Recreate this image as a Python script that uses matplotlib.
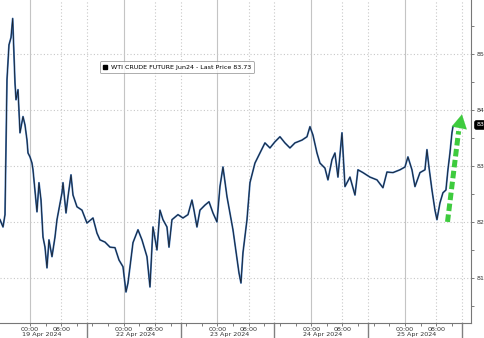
import matplotlib.pyplot as plt
from matplotlib.lines import Line2D

# hours since 19 Apr 2024 00:00 on the chart's trading-time axis (24 per day, weekend removed)
hours = [-7.68, -6.91, -6.40, -5.89, -5.38, -4.86, -4.43, -3.84, -3.58, -3.07, -2.56, -1.79,
         -1.28, -0.77, -0.51, 0.00, 0.51, 0.77, 1.79, 2.30, 2.82, 3.33, 3.84, 4.35, 4.86,
         5.63, 6.40, 6.91, 8.19, 8.45, 9.22, 9.73, 10.50, 11.01, 12.03, 13.31, 14.59, 16.13,
         17.15, 17.92, 19.20, 20.48, 21.76, 22.79, 23.81, 24.58, 25.09, 26.37, 27.65, 28.67,
         29.44, 29.95, 30.72, 31.49, 32.51, 33.28, 34.05, 35.07, 35.59, 36.35, 37.89, 39.17,
         40.45, 41.47, 41.99, 42.75, 43.52, 44.80, 45.83, 46.85, 47.87, 48.64, 49.41, 50.44,
         51.97, 53.51, 54.02, 54.53, 55.56, 56.32, 57.60, 58.88, 60.16, 61.44, 62.72, 64.00,
         65.28, 66.56, 67.84, 69.64, 70.92, 71.68, 72.45, 73.48, 74.24, 75.52, 76.29, 77.32,
         78.08, 78.85, 79.88, 80.65, 81.93, 83.21, 83.97, 85.25, 87.04, 88.84, 90.37, 91.40,
         92.93, 94.73, 96.01, 96.77, 97.80, 98.57, 99.85, 101.13, 101.64, 102.15, 102.92,
         103.69, 104.20, 104.97, 105.73, 106.50, 107.01, 107.53, 108.04, 108.30, 109.06]
price = [82.04, 81.91, 82.13, 84.54, 85.16, 85.29, 85.63, 84.48, 84.18, 84.36, 83.59, 83.88,
         83.73, 83.46, 83.23, 83.16, 83.05, 82.93, 82.18, 82.70, 82.39, 81.73, 81.55, 81.18,
         81.68, 81.38, 81.73, 82.04, 82.52, 82.70, 82.16, 82.45, 82.84, 82.48, 82.27, 82.21,
         81.98, 82.07, 81.80, 81.68, 81.64, 81.55, 81.54, 81.32, 81.20, 80.75, 80.91, 81.63,
         81.86, 81.68, 81.50, 81.38, 80.84, 81.91, 81.50, 82.21, 82.04, 81.91, 81.55, 82.04,
         82.13, 82.07, 82.13, 82.39, 82.21, 81.91, 82.21, 82.30, 82.36, 82.16, 82.00, 82.63,
         82.98, 82.45, 81.86, 81.09, 80.91, 81.45, 82.04, 82.70, 83.05, 83.23, 83.41, 83.32,
         83.43, 83.52, 83.41, 83.32, 83.41, 83.46, 83.52, 83.70, 83.55, 83.23, 83.05, 82.96,
         82.75, 83.11, 83.23, 82.80, 83.59, 82.63, 82.80, 82.48, 82.93, 82.88, 82.80, 82.75,
         82.61, 82.89, 82.88, 82.93, 82.98, 83.16, 82.93, 82.63, 82.88, 82.93, 83.29, 82.98,
         82.57, 82.21, 82.04, 82.34, 82.52, 82.57, 82.93, 83.23, 83.59, 83.70, 83.73]

day_labels = ['19 Apr 2024', '22 Apr 2024', '23 Apr 2024', '24 Apr 2024', '25 Apr 2024']
y_ticks = [81, 82, 83, 84, 85]
last_price = 83.73
legend_text = 'WTI CRUDE FUTURE Jun24 - Last Price 83.73'

fig = plt.figure(figsize=(4.85, 3.38), dpi=100)
ax = fig.add_axes([0, 0.045, 0.971, 0.955])

ax.plot(hours, price, color='#4277bb', lw=1.3, solid_joinstyle='round')
ax.plot(hours, price, color='#17202c', lw=0.6)

# grid: solid at midnight, dotted at 08:00 and session break, dotted horizontal
for d in range(5):
    ax.axvline(d * 24, color='#c4c4c4', lw=0.8, zorder=0)
    ax.axvline(d * 24 + 8, color='#c8c8c8', lw=0.8, ls=(0, (1, 2)), zorder=0)
    ax.axvline(d * 24 + 14.6, color='#c8c8c8', lw=0.8, ls=(0, (1, 2)), zorder=0)
    ax.plot([d * 24 + 14.6] * 2, [0, -0.045 / 0.955], transform=ax.get_xaxis_transform(),
            color='#808080', lw=1.0, clip_on=False)
    ax.text(d * 24 + 3, -0.036, day_labels[d], transform=ax.get_xaxis_transform(),
            ha='center', va='center', fontsize=4.6, color='#333333')
for v in y_ticks:
    ax.axhline(v, color='#c8c8c8', lw=0.8, ls=(0, (1, 2)), zorder=0)

major = [d * 24 + h for d in range(5) for h in (0, 8)]
ax.set_xticks(major)
ax.set_xticklabels(['00:00', '08:00'] * 5)
ax.set_xticks([d * 24 + h for d in range(5) for h in (4, 12, 16, 20) if d * 24 + h < 112],
              minor=True)
ax.tick_params(axis='x', which='both', direction='out', length=2, width=0.6, colors='#666666',
               labelsize=4.6, labelcolor='#333333', pad=1)

ax.yaxis.tick_right()
ax.set_yticks(y_ticks)
ax.set_yticklabels([f'{v:.2f}' for v in y_ticks])
ax.set_yticks([v + 0.5 for v in range(80, 86)], minor=True)
ax.tick_params(axis='y', which='both', direction='out', length=2, width=0.6, colors='#666666',
               labelsize=4.6, labelcolor='#333333', pad=2)

ax.set_xlim(-7.68, 112.9)
ax.set_ylim(80.20, 85.96)

for side in ('top', 'left'):
    ax.spines[side].set_visible(False)
for side in ('right', 'bottom'):
    ax.spines[side].set_color('#777777')
    ax.spines[side].set_linewidth(0.8)

# last price tag on the right axis
ax.annotate(f'{last_price:.2f}', xy=(1.0, last_price), xycoords=ax.get_yaxis_transform(),
            xytext=(4, 0), textcoords='offset points', va='center', ha='left',
            fontsize=4.6, color='white',
            bbox=dict(boxstyle='round,pad=0.25', fc='black', ec='black'), annotation_clip=False)

# legend
handle = Line2D([], [], marker='s', color='black', ls='none', markersize=3.5)
leg = ax.legend([handle], [legend_text], loc='upper left', bbox_to_anchor=(0.205, 0.82),
                fontsize=4.6, frameon=True, handlelength=0.8, handletextpad=0.4,
                borderpad=0.5, fancybox=True)
leg.get_frame().set_edgecolor('#888888')
leg.get_frame().set_linewidth(0.6)

# green dashed arrow
ax.plot([106.9, 109.75], [82.0, 83.62], color='#3ecb3e', lw=3.6, ls=(0, (1.5, 0.7)),
        solid_capstyle='butt')
ax.annotate('', xy=(110.6, 83.92), xytext=(109.7, 83.6),
            arrowprops=dict(arrowstyle='-|>,head_length=0.45,head_width=0.25',
                            mutation_scale=22, color='#3ecb3e', lw=0.1, shrinkA=0, shrinkB=0))

fig.savefig('out.png', dpi=100)
